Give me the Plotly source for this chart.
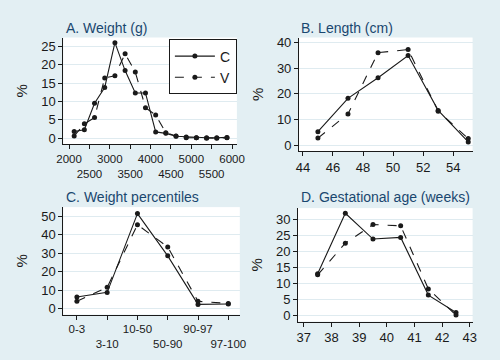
import plotly.graph_objects as go

# ---- Data ----
weight_x = [2125, 2375, 2625, 2875, 3125, 3375, 3625, 3875, 4125, 4375, 4625, 4875, 5125, 5375, 5625, 5875]
weight_c = [1.8, 2.3, 9.5, 13.8, 26.0, 18.4, 12.3, 12.3, 1.7, 1.3, 0.5, 0.3, 0.1, 0.1, 0.1, 0.2]
weight_v = [0.6, 3.9, 5.6, 16.4, 17.0, 23.0, 18.0, 8.3, 6.3, 1.5, 0.6, 0.1, 0.1, 0.0, 0.0, 0.1]

length_x = [45, 47, 49, 51, 53, 55]
length_c = [5.2, 18.2, 26.2, 34.9, 13.5, 1.2]
length_v = [2.7, 12.1, 36.0, 37.2, 13.2, 2.5]

pct_labels = ["0-3", "3-10", "10-50", "50-90", "90-97", "97-100"]
pct_c = [6.3, 8.8, 51.3, 28.5, 2.3, 2.5]
pct_v = [4.0, 11.5, 45.3, 33.3, 4.0, 2.8]

ga_x = [37.5, 38.5, 39.5, 40.5, 41.5, 42.5]
ga_c = [13.0, 31.8, 23.8, 24.3, 6.4, 1.0]
ga_v = [12.7, 22.5, 28.3, 27.9, 8.3, 0.2]

weight_ticks = [2000, 2500, 3000, 3500, 4000, 4500, 5000, 5500, 6000]
length_ticks = [44, 46, 48, 50, 52, 54]
ga_ticks = [37, 38, 39, 40, 41, 42, 43]

BG = "#e3eff3"
GRID = "#dfebf0"
INK = "#1a1a1a"
TITLE = "#1a476f"
FONT = "Liberation Sans, Arial"
W, H = 500, 360

fig = go.Figure()

def add_pair(x, c, v, xa, ya, legend=False):
    fig.add_trace(go.Scatter(x=x, y=c, name="C", mode="lines+markers",
                             line=dict(color=INK, width=1.1),
                             marker=dict(color=INK, size=5),
                             xaxis=xa, yaxis=ya, showlegend=legend))
    fig.add_trace(go.Scatter(x=x, y=v, name="V", mode="lines+markers",
                             line=dict(color=INK, width=1.1, dash="dash"),
                             marker=dict(color=INK, size=5),
                             xaxis=xa, yaxis=ya, showlegend=legend))

add_pair(weight_x, weight_c, weight_v, "x", "y", legend=True)
add_pair(length_x, length_c, length_v, "x2", "y2")
add_pair(list(range(len(pct_labels))), pct_c, pct_v, "x3", "y3")
add_pair(ga_x, ga_c, ga_v, "x4", "y4")

def px_x(a, b):
    return [a / W, b / W]

def px_y(top, bottom):
    return [1 - bottom / H, 1 - top / H]

axis_common = dict(showline=True, linecolor=INK, linewidth=1, ticks="outside",
                   ticklen=4, tickcolor=INK, mirror=False, zeroline=False, tickangle=0,
                   tickfont=dict(family=FONT, size=13, color=INK))

def xax(domain, rng, anchor, **kw):
    d = dict(axis_common); d.update(domain=domain, range=rng, anchor=anchor, showgrid=False); d.update(kw)
    return d

def yax(domain, rng, anchor, **kw):
    d = dict(axis_common); d.update(domain=domain, range=rng, anchor=anchor, showgrid=True,
                                    gridcolor=GRID, gridwidth=1.2,
                                    title=dict(text="%", standoff=9,
                                               font=dict(family=FONT, size=15, color=INK)))
    d.update(kw)
    return d

w_text = [str(t) if i % 2 == 0 else "<br>" + str(t) for i, t in enumerate(weight_ticks)]
p_text = [t if i % 2 == 0 else "<br>" + t for i, t in enumerate(pct_labels)]

fig.update_layout(
    width=W, height=H, margin=dict(l=0, r=0, t=0, b=0),
    paper_bgcolor=BG, plot_bgcolor="white",
    font=dict(family=FONT, color=INK),
    xaxis=xax(px_x(58, 237), [1857, 6119], "y", tickvals=weight_ticks, ticktext=w_text,
              tickfont=dict(family=FONT, size=11.5, color=INK)),
    yaxis=yax(px_y(35, 143), [-1.6, 27.4], "x", tickvals=[0, 5, 10, 15, 20, 25]),
    xaxis2=xax(px_x(301, 480), [43.74, 55.29], "y2", tickvals=length_ticks),
    yaxis2=yax(px_y(35, 150), [-2.3, 41.9], "x2", tickvals=[0, 10, 20, 30, 40]),
    xaxis3=xax(px_x(58, 240), [-0.45, 5.38], "y3", tickvals=list(range(len(pct_labels))), ticktext=p_text,
               tickfont=dict(family=FONT, size=11.5, color=INK)),
    yaxis3=yax(px_y(207, 316), [-3.2, 54.8], "x3", tickvals=[0, 10, 20, 30, 40, 50]),
    xaxis4=xax(px_x(300, 480), [36.79, 43.1], "y4", tickvals=ga_ticks),
    yaxis4=yax(px_y(208, 323), [-1.8, 33.4], "x4", tickvals=[0, 5, 10, 15, 20, 25, 30]),
    legend=dict(x=237 / W, y=1 - 37 / H, xanchor="right", yanchor="top",
                bgcolor="white", bordercolor=INK, borderwidth=1,
                font=dict(family=FONT, size=14, color=INK),
                itemwidth=40, tracegroupgap=0),
)

titles = [("A. Weight (g)", 59, 25), ("B. Length (cm)", 301, 25),
          ("C. Weight percentiles", 59, 197), ("D. Gestational age (weeks)", 301, 197)]
for text, xp, yp in titles:
    fig.add_annotation(text=text, x=xp / W, y=1 - yp / H, xref="paper", yref="paper",
                       xanchor="left", yanchor="middle", showarrow=False,
                       font=dict(family=FONT, size=14, color=TITLE))

fig.write_html("out.html", config={"displayModeBar": False},
               post_script="document.body.style.margin='0';document.body.style.padding='0';")
